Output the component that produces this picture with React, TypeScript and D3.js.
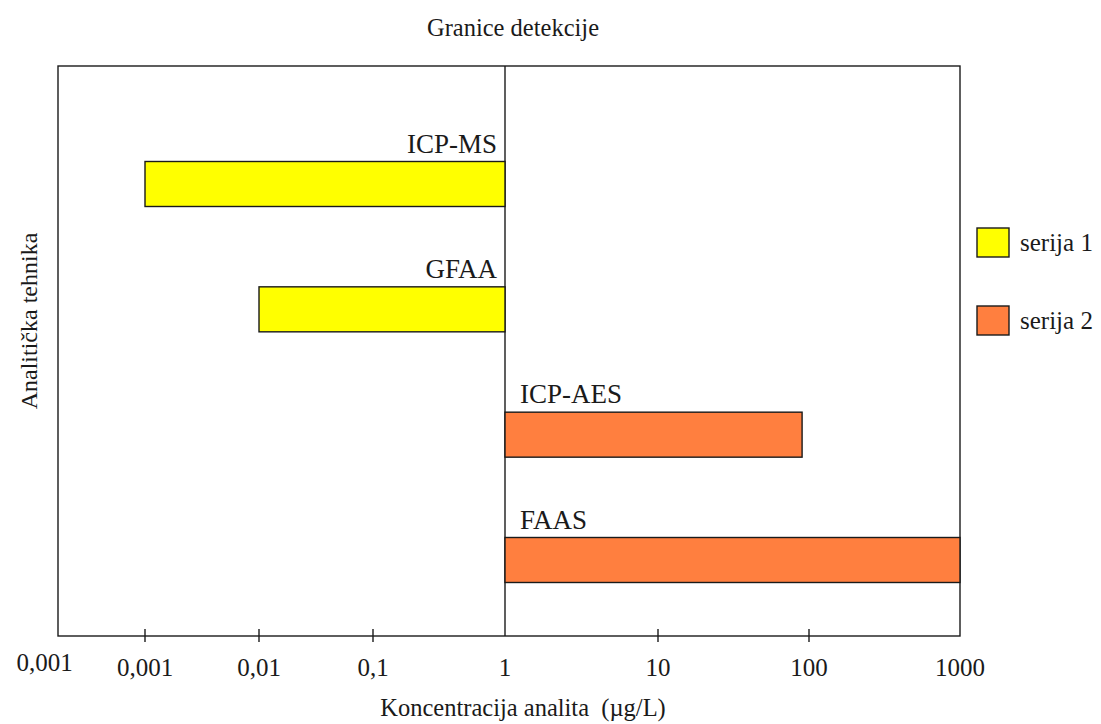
import React from "react";
import * as d3 from "d3";

const categories = ["ICP-MS", "GFAA", "ICP-AES", "FAAS"];
const seriesOf = [1, 1, 2, 2];
const values = [0.001, 0.01, 90, 1000];
const baseValue = 1;
const tickValues = [0.001, 0.01, 0.1, 1, 10, 100, 1000];
const tickLabels = ["0,001", "0,01", "0,1", "1", "10", "100", "1000"];
const edgeLabel = "0,001";
const legendLabels = ["serija 1", "serija 2"];
const colors = ["#FFFF00", "#FF7F3F"];
const title = "Granice detekcije";
const xTitle = "Koncentracija analita  (µg/L)";
const yTitle = "Analitička tehnika";

const W = 1101;
const H = 724;
const left = 58;
const right = 960;
const top = 66;
const bottom = 636;
const font = "'Liberation Serif', 'Times New Roman', serif";
const ink = "#1a1a1a";

export default function App() {
  const x = d3
    .scaleLog()
    .domain([0.001, 0.1, 1, 10, 1000])
    .range([145, 373, 505, 658, 960]);
  const y = d3.scalePoint<string>().domain(categories).range([184, 560]);
  const barH = 45;
  const tf = { fontFamily: font, whiteSpace: "pre" as const };

  return (
    <svg width={W} height={H} style={{ position: "absolute", left: 0, top: 0, background: "#fff" }}>
      <rect x={0} y={0} width={W} height={H} fill="#fff" />
      <text x={513} y={36} textAnchor="middle" fontSize={24.5} fill={ink} style={tf}>
        {title}
      </text>
      <rect x={left} y={top} width={right - left} height={bottom - top} fill="none" stroke={ink} strokeWidth={1.4} />
      <line x1={x(baseValue)} x2={x(baseValue)} y1={top} y2={bottom} stroke={ink} strokeWidth={1.4} />
      {categories.map((c, i) => {
        const v = values[i];
        const x0 = Math.min(x(v), x(baseValue));
        const x1 = Math.max(x(v), x(baseValue));
        const cy = y(c)!;
        const isLeft = v < baseValue;
        return (
          <g key={c}>
            <rect
              x={x0}
              y={cy - barH / 2}
              width={x1 - x0}
              height={barH}
              fill={colors[seriesOf[i] - 1]}
              stroke={ink}
              strokeWidth={1.4}
            />
            <text
              x={isLeft ? x(baseValue) - 8 : x(baseValue) + 15}
              y={cy - barH / 2 - 9}
              textAnchor={isLeft ? "end" : "start"}
              fontSize={27}
              fill={ink}
              style={tf}
            >
              {c}
            </text>
          </g>
        );
      })}
      {tickValues.map((t, i) => (
        <g key={t}>
          {t !== baseValue && t !== 1000 && (
            <line x1={x(t)} x2={x(t)} y1={bottom - 7} y2={bottom + 6} stroke={ink} strokeWidth={1.4} />
          )}
          <text x={x(t)} y={676} textAnchor="middle" fontSize={25} fill={ink} style={tf}>
            {tickLabels[i]}
          </text>
        </g>
      ))}
      <text x={44.5} y={671} textAnchor="middle" fontSize={25} fill={ink} style={tf}>
        {edgeLabel}
      </text>
      <text x={523} y={716} textAnchor="middle" fontSize={24.5} fill={ink} style={tf}>
        {xTitle}
      </text>
      <text
        transform={`translate(37, 321) rotate(-90)`}
        textAnchor="middle"
        fontSize={24}
        fill={ink}
        style={tf}
      >
        {yTitle}
      </text>
      {legendLabels.map((l, i) => (
        <g key={l}>
          <rect x={977} y={228 + i * 78} width={32} height={29} fill={colors[i]} stroke={ink} strokeWidth={1.4} />
          <text x={1020} y={251 + i * 78} fontSize={25} fill={ink} style={tf}>
            {l}
          </text>
        </g>
      ))}
    </svg>
  );
}
